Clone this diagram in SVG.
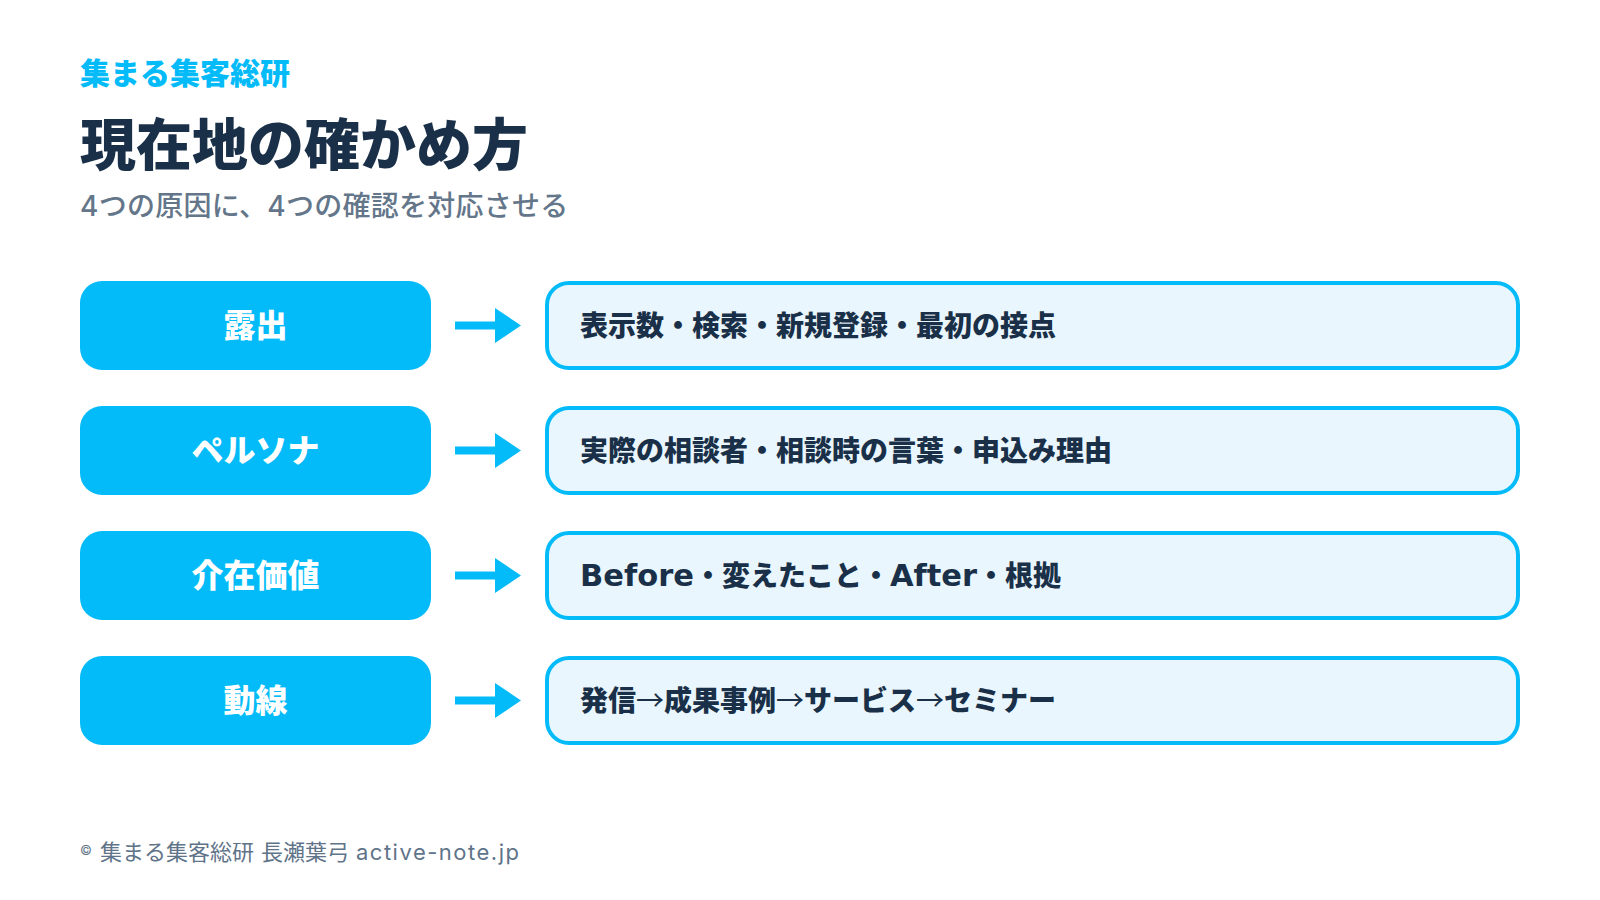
<svg xmlns="http://www.w3.org/2000/svg" width="1600" height="900" viewBox="0 0 1600 900">
  <defs>
    <style>
      .jp { font-family: Inter, "Noto Sans CJK JP", "Noto Sans", sans-serif; }
      .brand { font-size: 30px; font-weight: 900; fill: #03BBF9; }
      .title { font-size: 56px; font-weight: 900; fill: #1A3048; }
      .sub { font-size: 28px; font-weight: 500; fill: #64768A; }
      .cause { fill: #03BBF9; }
      .check { fill: #E9F6FD; stroke: #03BBF9; stroke-width: 4; }
      .lbl { font-size: 32px; font-weight: 900; fill: #FFFFFF; text-anchor: middle; }
      .txt { font-size: 28px; font-weight: 900; fill: #1A3048; }
      .lat { font-family: "DejaVu Sans", Inter, sans-serif; font-weight: 700; font-size: 30.5px; }
      .ar { font-family: "Noto Sans CJK JP", sans-serif; font-weight: 400; }
      .foot { font-size: 22px; font-weight: 400; fill: #5F7489; }
      .arrow { stroke: #03BBF9; stroke-width: 8; fill: none; }
      .head { fill: #03BBF9; }
    </style>
  </defs>
  <rect width="1600" height="900" fill="#FFFFFF"/>

  <g id="header">
    <text class="jp brand" x="80" y="84">集まる集客総研</text>
    <text class="jp title" x="80" y="165">現在地の確かめ方</text>
    <text class="jp sub" x="80" y="216" letter-spacing="0.25">4つの原因に、4つの確認を対応させる</text>
  </g>

  <g id="cause-1">
    <rect class="cause" x="80" y="281" width="351" height="89" rx="22"/>
    <text class="jp lbl" x="255.5" y="337">露出</text>
  </g>
  <g id="check-1">
    <rect class="check" x="547" y="283" width="971" height="85" rx="22"/>
    <text class="jp txt" x="580" y="336">表示数・検索・新規登録・最初の接点</text>
  </g>

  <g id="cause-2">
    <rect class="cause" x="80" y="406" width="351" height="89" rx="22"/>
    <text class="jp lbl" x="255.5" y="462">ペルソナ</text>
  </g>
  <g id="check-2">
    <rect class="check" x="547" y="408" width="971" height="85" rx="22"/>
    <text class="jp txt" x="580" y="461">実際の相談者・相談時の言葉・申込み理由</text>
  </g>

  <g id="cause-3">
    <rect class="cause" x="80" y="531" width="351" height="89" rx="22"/>
    <text class="jp lbl" x="255.5" y="587">介在価値</text>
  </g>
  <g id="check-3">
    <rect class="check" x="547" y="533" width="971" height="85" rx="22"/>
    <text class="jp txt" x="580" y="586"><tspan class="lat">Before</tspan>・変えたこと・<tspan class="lat">After</tspan>・根拠</text>
  </g>

  <g id="cause-4">
    <rect class="cause" x="80" y="656" width="351" height="89" rx="22"/>
    <text class="jp lbl" x="255.5" y="712">動線</text>
  </g>
  <g id="check-4">
    <rect class="check" x="547" y="658" width="971" height="85" rx="22"/>
    <text class="jp txt" x="580" y="711">発信<tspan class="ar">→</tspan>成果事例<tspan class="ar">→</tspan>サービス<tspan class="ar">→</tspan>セミナー</text>
  </g>

  <g id="connectors">
    <line class="arrow" x1="455" y1="325.5" x2="498" y2="325.5"/>
    <polygon class="head" points="495,308 521,325.5 495,343"/>
    <line class="arrow" x1="455" y1="450.5" x2="498" y2="450.5"/>
    <polygon class="head" points="495,433 521,450.5 495,468"/>
    <line class="arrow" x1="455" y1="575.5" x2="498" y2="575.5"/>
    <polygon class="head" points="495,558 521,575.5 495,593"/>
    <line class="arrow" x1="455" y1="700.5" x2="498" y2="700.5"/>
    <polygon class="head" points="495,683 521,700.5 495,718"/>
  </g>

  <g id="footer">
    <text class="jp foot" y="860"><tspan x="80" font-size="13" dy="-5">©</tspan><tspan x="100" dy="5">集まる集客総研</tspan><tspan x="261">長瀬葉弓</tspan><tspan x="356" letter-spacing="1.5">active-note.jp</tspan></text>
  </g>
</svg>
